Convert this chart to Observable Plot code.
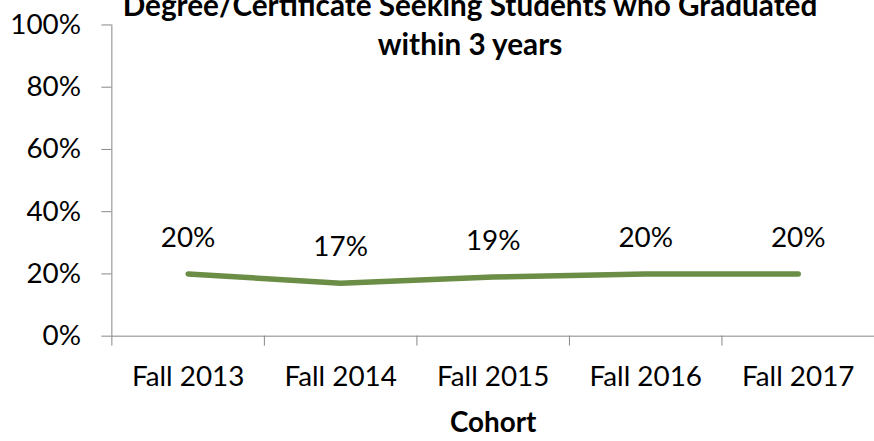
<!DOCTYPE html>
<html>
<head>
<meta charset="utf-8">
<script src="https://cdn.jsdelivr.net/npm/d3@7"></script>
<script src="https://cdn.jsdelivr.net/npm/@observablehq/plot@0.6"></script>
<style>
  html, body { margin: 0; padding: 0; background: #fff; overflow: hidden; }
  #wrap { position: relative; width: 874px; height: 441px; overflow: hidden; background: #fff; }
  #title { position: absolute; left: 0; top: -15px; width: 940px; text-align: center;
    font-family: Lato, "Open Sans", sans-serif; font-weight: bold; font-size: 29.7px; line-height: 39px; color: #000; z-index: 2; }
  #chart { position: absolute; left: 0; top: 0; }
</style>
</head>
<body>
<div id="wrap">
  <div id="title">Degree/Certificate Seeking Students who Graduated<br>within 3 years</div>
  <div id="chart"></div>
</div>
<script>
const cohorts = ["Fall 2013", "Fall 2014", "Fall 2015", "Fall 2016", "Fall 2017"];
const gradRates = [0.20, 0.17, 0.19, 0.20, 0.20];
const yTicks = [0, 0.2, 0.4, 0.6, 0.8, 1.0];
const xTitle = "Cohort";

const rows = cohorts.map((c, i) => ({cohort: c, i, rate: gradRates[i]}));
const boundaries = d3.range(-0.5, cohorts.length, 1);
const pct = d3.format(".0%");

const chart = Plot.plot({
  width: 879,
  height: 441,
  marginLeft: 112,
  marginRight: 0,
  marginTop: 24.6,
  marginBottom: 103.4,
  style: {fontFamily: "Lato, 'Open Sans', sans-serif", fontSize: "28px", color: "#000", background: "#fff", overflow: "visible"},
  x: {type: "linear", domain: [-0.5, cohorts.length - 0.5]},
  y: {domain: [0, 1]},
  marks: [
    Plot.axisY({ticks: yTicks, tickFormat: pct, tickSize: 10, tickPadding: 21, stroke: "#868686", label: null}),
    Plot.axisX({ticks: boundaries, tickSize: 10, tickFormat: () => "", stroke: "#868686", label: null}),
    Plot.axisX({ticks: d3.range(cohorts.length), tickSize: 0, tickPadding: 30.5, tickFormat: i => cohorts[i], label: null}),
    Plot.ruleX([-0.5], {y1: 0, y2: 1, stroke: "#868686", strokeWidth: 1}),
    Plot.ruleY([0], {stroke: "#868686", strokeWidth: 1}),
    Plot.lineY(rows, {x: "i", y: "rate", stroke: "#6b8d45", strokeWidth: 5.5, strokeLinecap: "round", strokeLinejoin: "round"}),
    Plot.text(rows, {x: "i", y: "rate", text: d => pct(d.rate), dy: -36.3, lineAnchor: "middle", fill: "#000"}),
    Plot.text([xTitle], {frameAnchor: "bottom", lineAnchor: "middle", dy: 87.4, fontWeight: "bold", fill: "#000"})
  ]
});
document.getElementById("chart").appendChild(chart);
</script>
</body>
</html>
